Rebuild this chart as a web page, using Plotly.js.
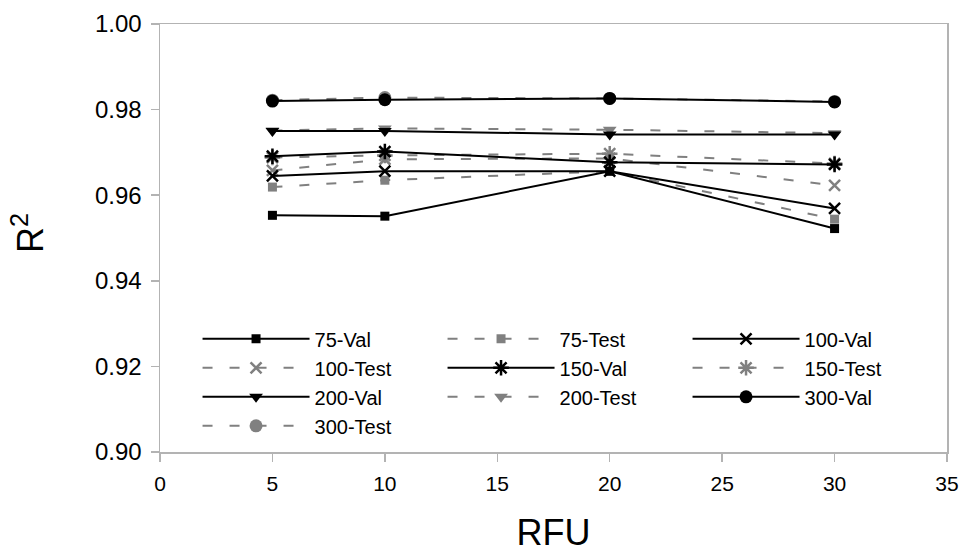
<!DOCTYPE html>
<html>
<head>
<meta charset="utf-8">
<script src="https://cdn.plot.ly/plotly-3.0.1.min.js"></script>
<style>html,body{margin:0;padding:0;background:#fff;}#chart{width:961px;height:553px;}</style>
</head>
<body>
<div id="chart"></div>
<script>
const rfu = [5, 10, 20, 30];
const val75 = [0.9553, 0.9551, 0.9656, 0.9522];
const test75 = [0.9619, 0.9635, 0.9656, 0.9544];
const val100 = [0.9645, 0.9656, 0.9656, 0.9569];
const test100 = [0.9658, 0.9684, 0.9686, 0.9623];
const val150 = [0.9691, 0.9702, 0.9677, 0.9672];
const test150 = [0.9688, 0.9693, 0.9697, 0.9674];
const val200 = [0.9750, 0.9750, 0.9742, 0.9742];
const test200 = [0.9751, 0.9756, 0.9753, 0.9745];
const val300 = [0.9820, 0.9823, 0.9826, 0.9818];
const test300 = [0.9822, 0.9828, 0.9826, 0.9819];

const BLACK = '#000000', GREY = '#808080';
function tr(name, y, isTest, symbol, size, lw, rank) {
  const c = isTest ? GREY : BLACK;
  return {
    x: rfu, y: y, name: name, type: 'scatter', mode: 'lines+markers',
    legendrank: rank,
    line: {color: c, width: 2, dash: isTest ? '10px,17px' : 'solid'},
    marker: {symbol: symbol, size: size, color: c, line: {color: c, width: lw}}
  };
}
// Test series drawn first so the solid Val series sit on top
const data = [
  tr('75-Test', test75, true, 'square', 9, 0, 2),
  tr('100-Test', test100, true, 'x-thin-open', 11, 2.5, 4),
  tr('150-Test', test150, true, 'asterisk-open', 13, 2.5, 6),
  tr('200-Test', test200, true, 'triangle-down', 12, 0, 8),
  tr('300-Test', test300, true, 'circle', 13, 0, 10),
  tr('75-Val', val75, false, 'square', 9, 0, 1),
  tr('100-Val', val100, false, 'x-thin-open', 11, 2.5, 3),
  tr('150-Val', val150, false, 'asterisk-open', 13, 2.5, 5),
  tr('200-Val', val200, false, 'triangle-down', 12, 0, 7),
  tr('300-Val', val300, false, 'circle', 13, 0, 9)
];
const layout = {
  width: 961, height: 553,
  margin: {l: 160, r: 14, t: 24, b: 101},
  paper_bgcolor: '#fff', plot_bgcolor: '#fff',
  font: {family: 'Liberation Sans, Arial, sans-serif', color: '#000', size: 20},
  showlegend: true,
  legend: {
    orientation: 'h', x: 0.0477, y: 0.31, xanchor: 'left', yanchor: 'top',
    entrywidth: 123, entrywidthmode: 'pixels', itemwidth: 107,
    font: {size: 20}, bgcolor: 'rgba(0,0,0,0)', tracegroupgap: 0
  },
  xaxis: {
    range: [0, 35], dtick: 5, tick0: 0, showgrid: false, zeroline: false,
    showline: true, linecolor: '#b3b3b3', linewidth: 1.5, mirror: true,
    ticks: 'outside', ticklen: 8, tickcolor: '#b3b3b3', tickwidth: 1.5,
    tickfont: {size: 21}, ticklabelstandoff: 4,
    title: {text: 'RFU', font: {size: 36}, standoff: 39}
  },
  yaxis: {
    range: [0.9, 1.0], dtick: 0.02, tick0: 0.9, tickformat: '.2f',
    showgrid: false, zeroline: false,
    showline: true, linecolor: '#b3b3b3', linewidth: 1.5, mirror: true,
    ticks: 'outside', ticklen: 8, tickcolor: '#b3b3b3', tickwidth: 1.5,
    tickfont: {size: 24}, ticklabelstandoff: 4,
    title: {text: '&nbsp;R<sup>2</sup>', font: {size: 36}, standoff: 40}
  }
};
Plotly.newPlot('chart', data, layout, {displayModeBar: false, staticPlot: true});
</script>
</body>
</html>
